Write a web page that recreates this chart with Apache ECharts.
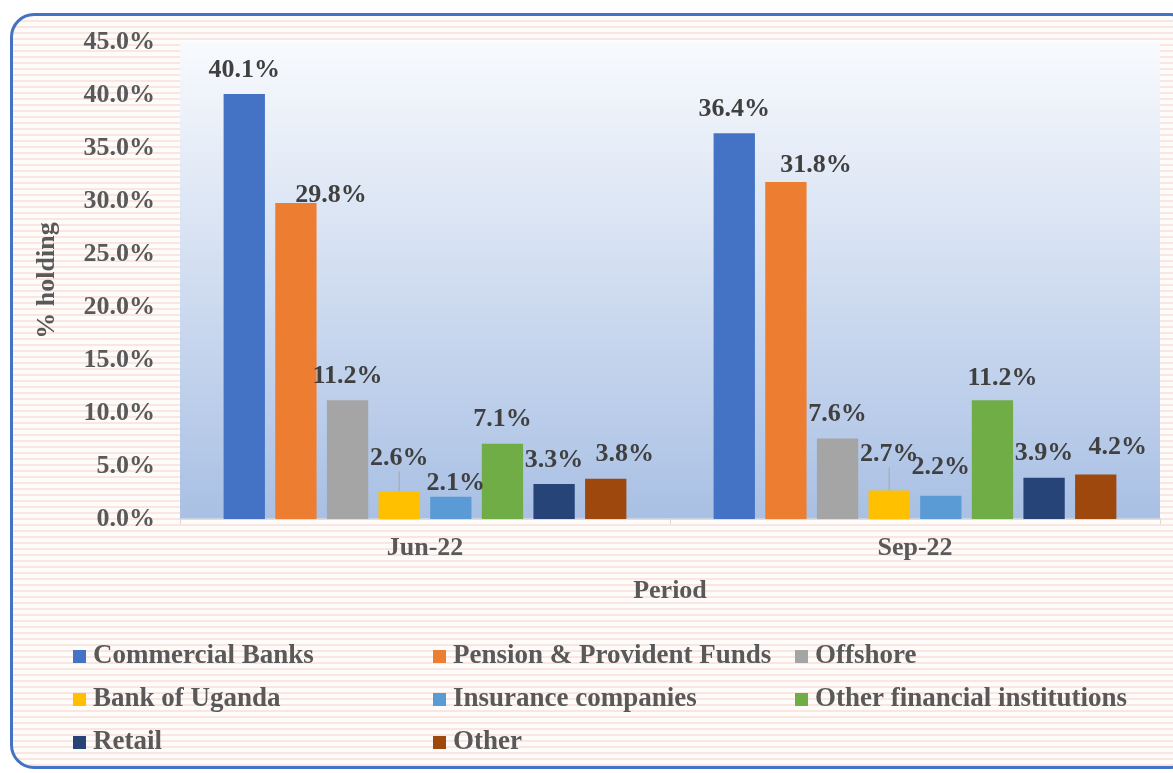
<!DOCTYPE html>
<html>
<head>
<meta charset="utf-8">
<script src="https://cdn.jsdelivr.net/npm/echarts@6/dist/echarts.min.js"></script>
<style>
  html, body { margin: 0; padding: 0; background: #ffffff; }
  #frame {
    position: absolute; left: 10px; top: 13px; width: 1185px; height: 756px;
    border: 3px solid #4472c4; border-radius: 24px; box-sizing: border-box;
    background: repeating-linear-gradient(180deg, #fefcfa 0px, #fefcfa 4px, #f9e6e1 4px, #f9e6e1 6px);
  }
  #main { position: absolute; left: 0; top: 0; width: 1173px; height: 773px; }
</style>
</head>
<body>
<div id="frame"></div>
<div id="main"></div>
<script>
  // 数据
  var periods = ['Jun-22', 'Sep-22'];
  var holders = ['Commercial Banks', 'Pension & Provident Funds', 'Offshore', 'Bank of Uganda',
                 'Insurance companies', 'Other financial institutions', 'Retail', 'Other'];
  var commercialBanks = [40.1, 36.4];
  var pensionFunds = [29.8, 31.8];
  var offshore = [11.2, 7.6];
  var bankOfUganda = [2.6, 2.7];
  var insurance = [2.1, 2.2];
  var otherFinancial = [7.1, 11.2];
  var retail = [3.3, 3.9];
  var other = [3.8, 4.2];
  var yTicks = [0, 5, 10, 15, 20, 25, 30, 35, 40, 45];

  var values = [commercialBanks, pensionFunds, offshore, bankOfUganda, insurance, otherFinancial, retail, other];
  var colors = ['#4472c4', '#ed7d31', '#a5a5a5', '#ffc000', '#5b9bd5', '#70ad47', '#264478', '#9e480e'];

  // label nudges (dx, dy) where the original labels were moved by hand
  var nudges = {
    '1-0': [35, 16], '1-1': [30, 7],
    '3-0': [0, -9], '3-1': [0, -12],
    '4-0': [5, 11], '4-1': [0, -4],
    '5-1': [10, 2],
    '7-0': [19, 0], '7-1': [22, -3]
  };

  var font = 'Liberation Serif, Times New Roman, serif';
  var chart = echarts.init(document.getElementById('main'));

  var series = values.map(function (vals, i) {
    return {
      name: holders[i],
      type: 'bar',
      barGap: '25%',
      barCategoryGap: '17.8%',
      itemStyle: { color: colors[i] },
      label: {
        show: true,
        position: 'top',
        distance: 11,
        fontFamily: font,
        fontWeight: 'bold',
        fontSize: 26,
        color: '#404040',
        formatter: function (p) { return p.value.toFixed(1) + '%'; }
      },
      labelLayout: function (p) {
        var n = nudges[p.seriesIndex + '-' + p.dataIndex];
        return n ? { dx: n[0], dy: n[1] } : {};
      },
      data: vals.map(function (v) {
        if (i === 3) {
          return { value: v, labelLine: { show: true, lineStyle: { color: '#a6a6a6', width: 1 } } };
        }
        return v;
      })
    };
  });

  function legendCol(left, names) {
    return {
      orient: 'vertical',
      left: left,
      top: 643,
      padding: 0,
      itemGap: 16,
      itemWidth: 13,
      itemHeight: 13,
      icon: 'rect',
      selectedMode: false,
      data: names,
      textStyle: { fontFamily: font, fontWeight: 'bold', fontSize: 27, lineHeight: 26, color: '#595959', padding: [0, 0, 0, 2] }
    };
  }

  var option = {
    animation: false,
    backgroundColor: 'transparent',
    grid: {
      left: 180, right: 13, top: 42, bottom: 254,
      show: true,
      borderWidth: 0,
      backgroundColor: new echarts.graphic.LinearGradient(0, 0, 0, 1, [
        { offset: 0, color: '#f8fafd' },
        { offset: 1, color: '#a9c0e4' }
      ])
    },
    legend: [
      legendCol(73, [holders[0], holders[3], holders[6]]),
      legendCol(433, [holders[1], holders[4], holders[7]]),
      legendCol(795, [holders[2], holders[5]])
    ],
    xAxis: {
      type: 'category',
      data: periods,
      name: 'Period',
      nameLocation: 'middle',
      nameGap: 59,
      nameTextStyle: { fontFamily: font, fontWeight: 'bold', fontSize: 26, color: '#595959' },
      axisLine: { lineStyle: { color: '#d9d9d9', width: 1.5 } },
      axisTick: { show: true, length: 5, lineStyle: { color: '#d9d9d9' } },
      axisLabel: { margin: 16, fontFamily: font, fontWeight: 'bold', fontSize: 26, color: '#595959' }
    },
    yAxis: {
      type: 'value',
      min: yTicks[0],
      max: yTicks[yTicks.length - 1],
      interval: yTicks[1] - yTicks[0],
      name: '% holding',
      nameLocation: 'middle',
      nameGap: 120,
      nameTextStyle: { fontFamily: font, fontWeight: 'bold', fontSize: 26, color: '#595959' },
      axisLine: { show: false },
      axisTick: { show: false },
      splitLine: { show: false },
      axisLabel: {
        margin: 25,
        fontFamily: font, fontWeight: 'bold', fontSize: 26, color: '#595959',
        formatter: function (v) { return v.toFixed(1) + '%'; }
      }
    },
    series: series
  };

  chart.setOption(option);
</script>
</body>
</html>
